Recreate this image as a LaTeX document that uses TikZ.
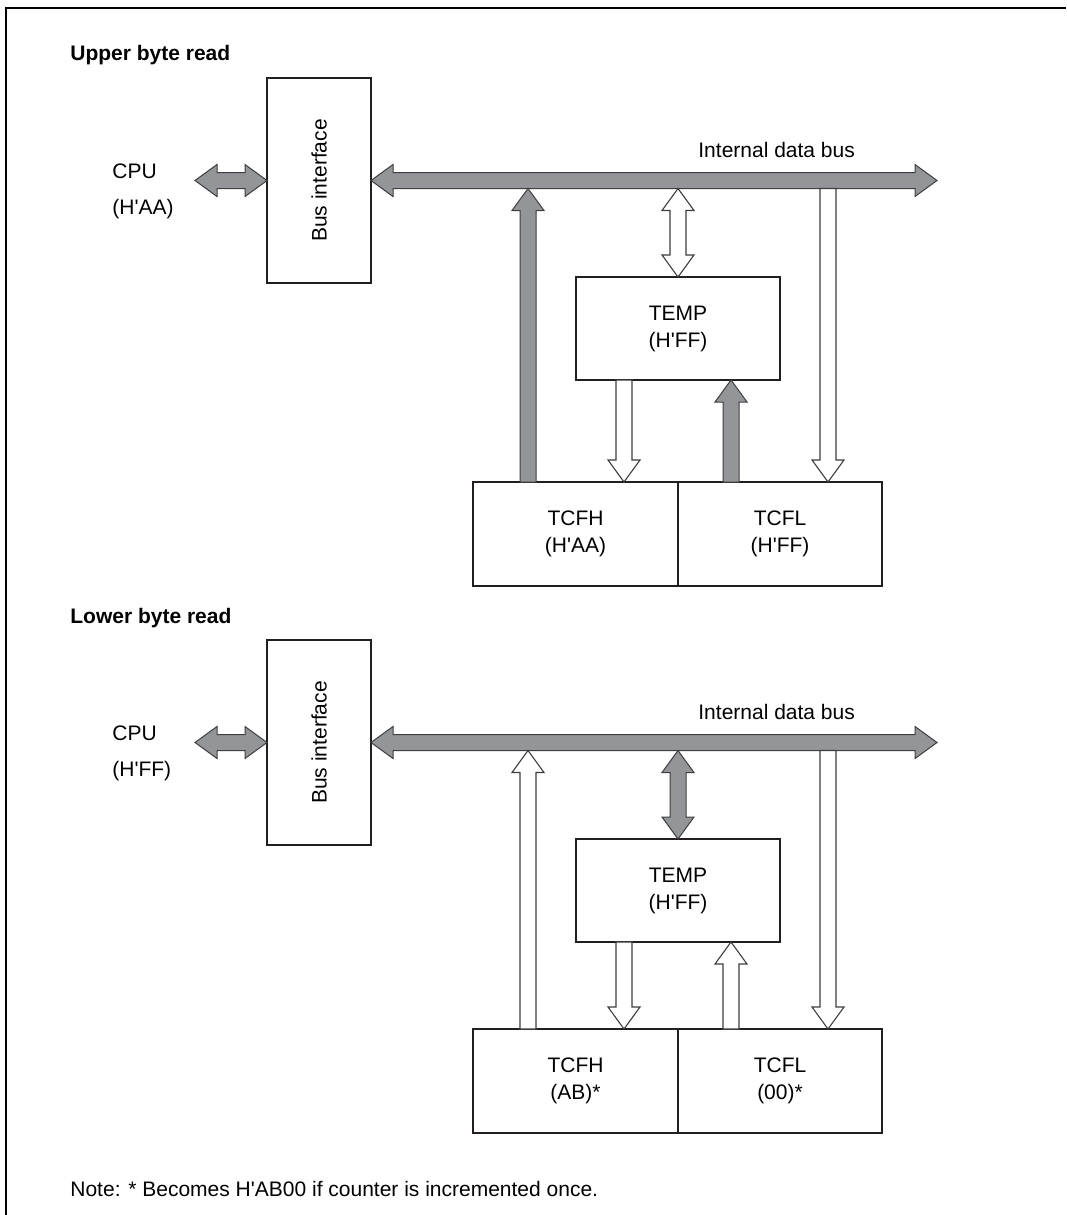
\documentclass[tikz,border=0pt]{standalone}
\usepackage{fontspec}
\setmainfont{Liberation Sans}
\usetikzlibrary{positioning,calc}

\definecolor{busgray}{RGB}{147,149,152}
\definecolor{edgegray}{RGB}{62,62,64}
\definecolor{boxline}{RGB}{35,31,32}

% straight apostrophe as in the register values
\newcommand{\sq}{\textquotesingle}

% fat arrow sizes
\newcommand{\halfshaft}{4pt}
\newcommand{\halfhead}{8pt}
\newcommand{\headlen}{11pt}

% one head, from #2 to #3
\newcommand{\fatarrow}[3]{%
  \path (#2) coordinate (ta) (#3) coordinate (tb);
  \path ($(tb)!\headlen!(ta)$) coordinate (th);
  \draw[#1] ($(ta)!\halfshaft!90:(tb)$) -- ($(th)!\halfshaft!90:(tb)$)
    -- ($(th)!\halfhead!90:(tb)$) -- (tb)
    -- ($(th)!\halfhead!-90:(tb)$) -- ($(th)!\halfshaft!-90:(tb)$)
    -- ($(ta)!\halfshaft!-90:(tb)$) -- cycle;
}
% two heads, between #2 and #3
\newcommand{\fatdouble}[3]{%
  \path (#2) coordinate (ta) (#3) coordinate (tb);
  \path ($(ta)!\headlen!(tb)$) coordinate (tha) ($(tb)!\headlen!(ta)$) coordinate (thb);
  \draw[#1] (ta) -- ($(tha)!\halfhead!90:(tb)$) -- ($(tha)!\halfshaft!90:(tb)$)
    -- ($(thb)!\halfshaft!90:(tb)$) -- ($(thb)!\halfhead!90:(tb)$) -- (tb)
    -- ($(thb)!\halfhead!-90:(tb)$) -- ($(thb)!\halfshaft!-90:(tb)$)
    -- ($(tha)!\halfshaft!-90:(tb)$) -- ($(tha)!\halfhead!-90:(tb)$) -- cycle;
}

\begin{document}
\begin{tikzpicture}[x=0.5pt, y=-0.5pt]

\tikzset{
  block/.style={
    rectangle, draw=boxline, line width=0.6pt, align=center,
    inner sep=0pt, outer sep=0pt,
    font=\fontsize{10.5}{13.5}\selectfont
  },
  txt/.style={anchor=base west, inner sep=0pt, font=\fontsize{10.5}{13.5}\selectfont},
  heading/.style={txt, font=\fontsize{10.5}{13.5}\selectfont\bfseries},
  fatgray/.style={fill=busgray, draw=edgegray, line width=0.5pt, line join=miter},
  fatwhite/.style={fill=white, draw=edgegray, line width=0.55pt, line join=miter}
}

\useasboundingbox (0,0) rectangle (1066,1215);
\draw[line width=1.1pt, line join=miter] (6,1215) -- (6,8) -- (1066,8);

% arrow columns
\coordinate (colA) at (528,0);
\coordinate (colC) at (624,0);
\coordinate (colD) at (731,0);
\coordinate (colE) at (828,0);

% ==========================
% Upper byte read
% ==========================
\node[heading] (title1) at (70,61) {Upper byte read};
\node[txt] (cpu1) at (112,178) {CPU};
\node[txt] (val1) at (112,214) {(H\sq AA)};

\node[block, minimum width=52pt, minimum height=102.5pt] (bif1) at (319,180.5)
  {\rotatebox{90}{Bus interface}};
\node[block, minimum width=102pt, minimum height=51.5pt] (temp1) at (678,328.5)
  {TEMP\\(H\sq FF)};
\node[block, minimum width=102.5pt, minimum height=52pt] (tcfh1) at (575.5,534)
  {TCFH\\(H\sq AA)};
\node[block, minimum width=102pt, minimum height=52pt, right=0pt of tcfh1] (tcfl1)
  {TCFL\\(H\sq FF)};

\coordinate (cpuend1) at (195,180.5);
\coordinate (busend1) at (937,180.5);
\coordinate (busS1) at ($(bif1.east)+(0,8)$);
\node[txt] (buslbl1) at (698,157) {Internal data bus};

\fatdouble{fatgray}{cpuend1}{bif1.west}
\fatdouble{fatgray}{bif1.east}{busend1}
\fatarrow{fatgray}{tcfh1.north -| colA}{busS1 -| colA}
\fatdouble{fatwhite}{busS1 -| temp1.north}{temp1.north}
\fatarrow{fatwhite}{temp1.south -| colC}{tcfh1.north -| colC}
\fatarrow{fatgray}{tcfl1.north -| colD}{temp1.south -| colD}
\fatarrow{fatwhite}{busS1 -| colE}{tcfl1.north -| colE}

% ==========================
% Lower byte read
% ==========================
\node[heading] (title2) at (70,623) {Lower byte read};
\node[txt] (cpu2) at (112,740) {CPU};
\node[txt] (val2) at (112,776) {(H\sq FF)};

\node[block, minimum width=52pt, minimum height=102.5pt] (bif2) at (319,742.5)
  {\rotatebox{90}{Bus interface}};
\node[block, minimum width=102pt, minimum height=51.5pt] (temp2) at (678,890.5)
  {TEMP\\(H\sq FF)};
\node[block, minimum width=102.5pt, minimum height=52pt] (tcfh2) at (575.5,1081)
  {TCFH\\(AB)*};
\node[block, minimum width=102pt, minimum height=52pt, right=0pt of tcfh2] (tcfl2)
  {TCFL\\(00)*};

\coordinate (cpuend2) at (195,742.5);
\coordinate (busend2) at (937,742.5);
\coordinate (busS2) at ($(bif2.east)+(0,8)$);
\node[txt] (buslbl2) at (698,719) {Internal data bus};

\fatdouble{fatgray}{cpuend2}{bif2.west}
\fatdouble{fatgray}{bif2.east}{busend2}
\fatarrow{fatwhite}{tcfh2.north -| colA}{busS2 -| colA}
\fatdouble{fatgray}{busS2 -| temp2.north}{temp2.north}
\fatarrow{fatwhite}{temp2.south -| colC}{tcfh2.north -| colC}
\fatarrow{fatwhite}{tcfl2.north -| colD}{temp2.south -| colD}
\fatarrow{fatwhite}{busS2 -| colE}{tcfl2.north -| colE}

\node[txt] (note) at (70,1196) {Note: * Becomes H\sq AB00 if counter is incremented once.};

\end{tikzpicture}
\end{document}
